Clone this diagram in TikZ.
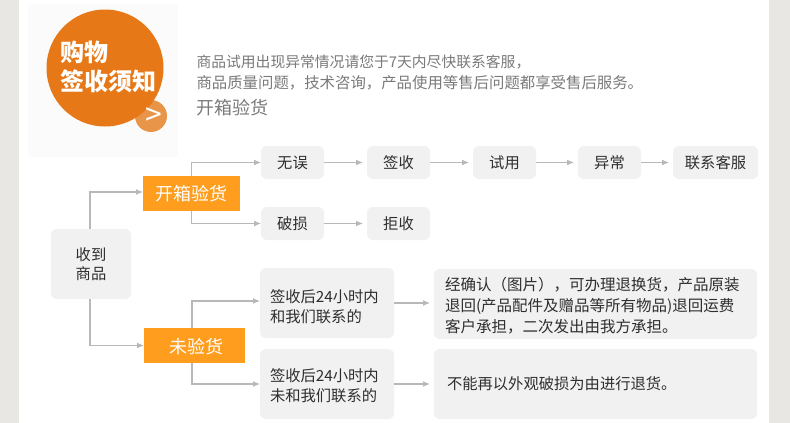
\documentclass[tikz,border=0pt]{standalone}
\usepackage{fontspec}
\setmainfont{Noto Sans CJK SC}
\usetikzlibrary{arrows.meta}
\definecolor{band}{HTML}{E9E7E4}
\definecolor{panelc}{HTML}{FBFBFB}
\definecolor{disc}{HTML}{E67817}
\definecolor{discb}{HTML}{E8954A}
\definecolor{boxc}{HTML}{F1F1F1}
\definecolor{hubc}{HTML}{FF9D1F}
\definecolor{linec}{HTML}{B8B8B8}
\definecolor{inkc}{HTML}{2E2E2E}
\definecolor{greyc}{HTML}{7A7A7A}
\newcommand{\fs}[2]{\fontsize{#1pt}{#2pt}\selectfont}
\tikzset{
  x=1pt,y=-1pt,
  every node/.style={inner sep=0pt,outer sep=0pt},
  graybox/.style={fill=boxc,rounded corners=6pt,anchor=north west,text=inkc,font=\fs{15.3}{20},align=center},
  leftbox/.style={graybox,align=left},
  hub/.style={fill=hubc,anchor=north west,text=white,font=\fs{18}{22},align=center},
  conn/.style={draw=linec,line width=1.1pt,-{Latex[length=7pt,width=6pt]},shorten >=4pt},
  elbow/.style={conn,shorten >=0pt},
  infotext/.style={anchor=west,text=greyc,align=left},
}
\begin{document}
\begin{tikzpicture}
\useasboundingbox (0,0) rectangle (790,423);
\fill[white] (0,0) rectangle (790,423);
\fill[band] (0,0) rectangle (19,423);
\fill[band] (769,0) rectangle (790,423);
\fill[panelc] (28,4) rectangle (178,157);
\fill[discb] (151,116) circle (16);
\fill[disc] (105,68) circle (58.5);
\node[anchor=west,text=white,font=\fs{24}{29}\bfseries,align=left] (title) at (60,67) {购物\\签收须知};
\node[text=white,font=\fs{30}{30}] (more) at (154,117) {>};
\node[infotext,font=\fs{14.8}{20}] (info1) at (196.5,62.5) {商品试用出现异常情况请您于7天内尽快联系客服，};
\node[infotext,font=\fs{15.4}{20}] (info2) at (196.5,82.5) {商品质量问题，技术咨询，产品使用等售后问题都享受售后服务。};
\node[anchor=west,text=greyc,font=\fs{18}{22}] (infohead) at (196.5,107.5) {开箱验货};

\node[graybox,minimum width=80pt,minimum height=70pt] (recv) at (51,229) {收到\\[-1.5pt]商品};
\node[hub,minimum width=97pt,minimum height=35pt] (open) at (143,176) {开箱验货};
\node[hub,minimum width=101pt,minimum height=35pt] (unopen) at (144,328) {\hspace*{4pt}\rule{0pt}{18pt}未验货};

\node[graybox,minimum width=63pt,minimum height=33pt] (ok) at (261,146) {无误};
\node[graybox,minimum width=63pt,minimum height=33pt] (sign) at (367,146) {签收};
\node[graybox,minimum width=63pt,minimum height=33pt] (trial) at (473,146) {试用};
\node[graybox,minimum width=63pt,minimum height=33pt] (abn) at (578,146) {异常};
\node[graybox,minimum width=85pt,minimum height=33pt] (contact) at (673,146) {联系客服};
\node[graybox,minimum width=63pt,minimum height=33pt] (broken) at (261,207) {破损};
\node[graybox,minimum width=63pt,minimum height=33pt] (refuse) at (367,207) {拒收};

\node[leftbox,text width=114pt,inner xsep=10pt,minimum height=70pt] (d1) at (260,268) {\rule{0pt}{20pt}签收后24小时内\\和我们联系的};
\node[leftbox,text width=114pt,inner xsep=10pt,minimum height=70pt] (d2) at (260,349) {\rule{0pt}{16pt}签收后24小时内\\未和我们联系的};
\node[leftbox,text width=301pt,inner xsep=11pt,minimum height=70pt,font=\fs{15.5}{21}] (r1) at (434,269) {\rule{0pt}{16pt}经确认（图片），可办理退换货，产品原装\\退回(产品配件及赠品等所有物品)退回运费\\客户承担，二次发出由我方承担。};
\node[leftbox,text width=297pt,inner xsep=13pt,minimum height=70pt] (r2) at (434,349) {不能再以外观破损为由进行退货。};

\draw[elbow] ([xshift=-1pt]recv.north) |- ([yshift=1.5pt]open.west);
\draw[elbow] ([xshift=-1pt]recv.south) |- (unopen.west);
\draw[elbow] (open.north) |- (ok.west);
\draw[elbow] (open.south) |- (broken.west);
\draw[elbow] ([xshift=-2.5pt]unopen.north) |- ([yshift=2pt]d1.west);
\draw[elbow] ([xshift=-2.5pt]unopen.south) |- (d2.west);
\draw[conn] (ok) -- (sign);
\draw[conn] (sign) -- (trial);
\draw[conn] (trial) -- (abn);
\draw[conn] (abn) -- (contact);
\draw[conn] (broken) -- (refuse);
\draw[conn] (d1.east) -- (d1.east -| r1.west);
\draw[conn] (d2.east) -- (r2.west);
\end{tikzpicture}
\end{document}
